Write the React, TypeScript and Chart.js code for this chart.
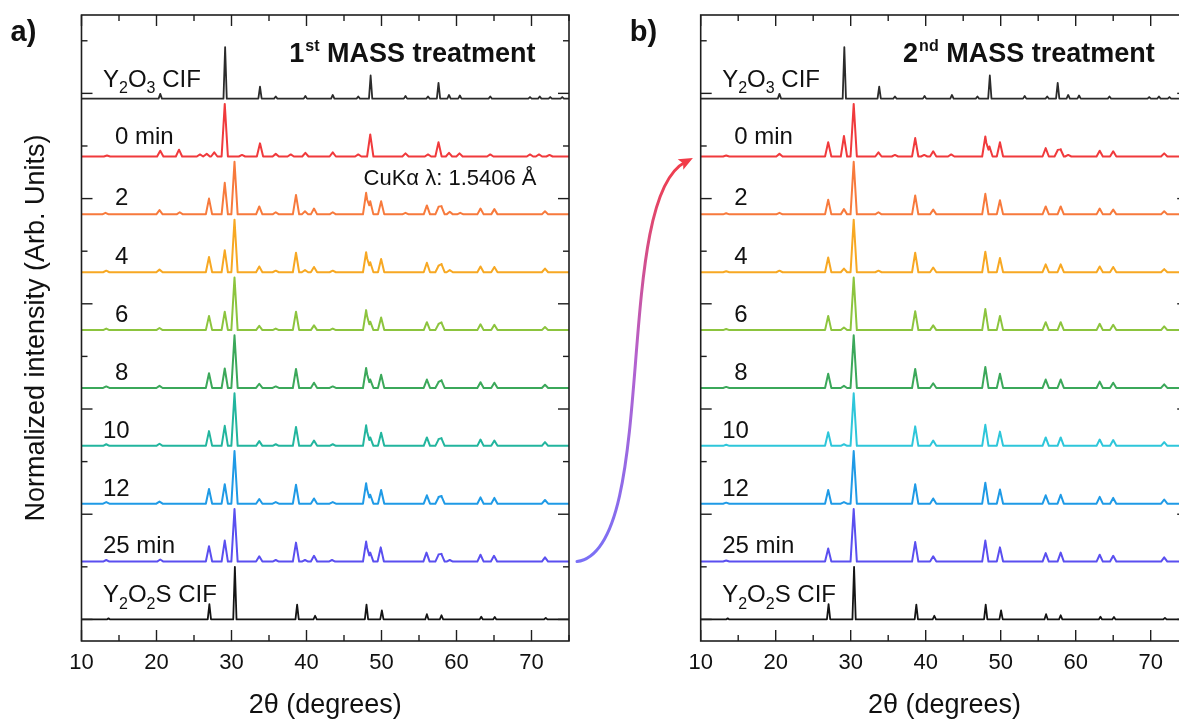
import React, { useEffect, useRef } from "react";
import { Chart, registerables } from "chart.js";

Chart.register(...registerables);

const FONT = "'Liberation Sans', Arial, Helvetica, sans-serif";

// ---------- axes ----------
const X_MIN = 10;
const X_MAX = 75;
const Y_MIN = -0.41;
const Y_MAX = 11.49;
const xMajorTicks = [10, 20, 30, 40, 50, 60, 70];
const xMinorTicks = [15, 25, 35, 45, 55, 65, 75];
const yMajorTicks = [0, 2, 4, 6, 8, 10];
const yMinorTicks = [1, 3, 5, 7, 9, 11];

// ---------- traces ----------
const traceLabels = ["Y_2O_3 CIF", "0 min", "2", "4", "6", "8", "10", "12", "25 min", "Y_2O_2S CIF"];
const traceOffsets = [9.9, 8.8, 7.7, 6.6, 5.5, 4.4, 3.3, 2.2, 1.1, 0];
const traceIsCif = [true, false, false, false, false, false, false, false, false, true];

const colorsA = ["#2b2b2b", "#f03a3c", "#f77a3c", "#f7a823", "#8cc43e", "#3ba85a", "#22b59e", "#1f9ae6", "#5a4ff0", "#141414"];
const colorsB = ["#2b2b2b", "#f03a3c", "#f77a3c", "#f7a823", "#8cc43e", "#3ba85a", "#2ec6da", "#1f9ae6", "#5a4ff0", "#141414"];

// peaks: [2theta, normalized height]
const y2o3CifPeaks = [[20.5, 0.09], [29.15, 0.98], [33.8, 0.23], [35.9, 0.04], [39.85, 0.05], [43.5, 0.07], [46.9, 0.04], [48.55, 0.44], [53.2, 0.05], [56.2, 0.04], [57.6, 0.3], [59.0, 0.07], [60.45, 0.06], [64.5, 0.04], [69.8, 0.03], [71.1, 0.04], [72.5, 0.03], [74.1, 0.03]];
const y2o2sCifPeaks = [[13.6, 0.02], [27.05, 0.29], [30.45, 1.0], [38.75, 0.28], [41.15, 0.07], [48.0, 0.28], [50.05, 0.17], [56.05, 0.1], [58.0, 0.08], [63.3, 0.05], [65.1, 0.045], [71.9, 0.03]];

const a0minPeaks = [[13.4, 0.02], [20.5, 0.11], [23.0, 0.13], [25.8, 0.04], [26.7, 0.05], [27.7, 0.08], [29.1, 1.0], [31.4, 0.03], [33.8, 0.25], [35.9, 0.05], [37.9, 0.04], [39.85, 0.07], [43.5, 0.08], [46.9, 0.04], [48.5, 0.42], [53.2, 0.06], [56.2, 0.04], [57.6, 0.27], [59.0, 0.07], [60.4, 0.06], [64.5, 0.04], [69.8, 0.04], [71.0, 0.04], [72.4, 0.03]];
const a2minPeaks = [[13.2, 0.03], [20.4, 0.08], [23.1, 0.04], [27.0, 0.3], [29.1, 0.6], [30.4, 1.0], [33.7, 0.15], [35.9, 0.04], [38.6, 0.37], [39.8, 0.06], [41.0, 0.11], [43.5, 0.04], [47.95, 0.41], [48.5, 0.25], [49.95, 0.25], [53.2, 0.03], [56.05, 0.17], [57.6, 0.14], [58.0, 0.15], [59.1, 0.05], [60.5, 0.03], [63.2, 0.11], [65.05, 0.1], [71.8, 0.06]];
const a4minPeaks = [[13.3, 0.03], [20.4, 0.05], [27.0, 0.29], [29.1, 0.42], [30.4, 1.0], [33.7, 0.11], [35.9, 0.03], [38.6, 0.37], [39.8, 0.04], [41.0, 0.1], [43.5, 0.03], [47.95, 0.38], [48.5, 0.19], [49.95, 0.25], [56.05, 0.18], [57.6, 0.12], [58.0, 0.15], [59.1, 0.04], [63.2, 0.11], [65.05, 0.1], [71.8, 0.07]];
const a6minPeaks = [[13.3, 0.03], [20.4, 0.04], [27.0, 0.27], [29.1, 0.35], [30.4, 1.0], [33.7, 0.08], [35.9, 0.03], [38.6, 0.35], [41.0, 0.09], [43.5, 0.03], [47.95, 0.38], [48.5, 0.16], [49.95, 0.24], [56.05, 0.15], [57.6, 0.11], [58.0, 0.14], [63.2, 0.11], [65.05, 0.1], [71.8, 0.06]];
const a8minPeaks = [[13.3, 0.03], [20.4, 0.04], [27.0, 0.28], [29.1, 0.37], [30.4, 1.0], [33.7, 0.08], [35.9, 0.03], [38.6, 0.36], [41.0, 0.1], [43.5, 0.03], [47.95, 0.38], [48.5, 0.16], [49.95, 0.25], [56.05, 0.16], [57.6, 0.11], [58.0, 0.14], [63.2, 0.11], [65.05, 0.1], [71.8, 0.06]];
const a10minPeaks = [[13.3, 0.03], [20.4, 0.04], [27.0, 0.28], [29.1, 0.38], [30.4, 1.0], [33.7, 0.09], [35.9, 0.03], [38.6, 0.36], [41.0, 0.1], [43.5, 0.03], [47.95, 0.39], [48.5, 0.16], [49.95, 0.25], [56.05, 0.16], [57.6, 0.12], [58.0, 0.14], [63.2, 0.12], [65.05, 0.1], [71.8, 0.07]];
const a12minPeaks = [[13.3, 0.03], [20.4, 0.04], [27.0, 0.28], [29.1, 0.37], [30.4, 1.0], [33.7, 0.09], [35.9, 0.03], [38.6, 0.36], [41.0, 0.1], [43.5, 0.03], [47.95, 0.39], [48.5, 0.17], [49.95, 0.26], [56.05, 0.16], [57.6, 0.12], [58.0, 0.14], [63.2, 0.12], [65.05, 0.11], [71.8, 0.07]];
const a25minPeaks = [[13.3, 0.03], [20.5, 0.04], [27.0, 0.29], [29.1, 0.4], [30.4, 1.0], [33.7, 0.1], [35.9, 0.03], [38.6, 0.36], [39.8, 0.03], [41.0, 0.11], [43.4, 0.03], [47.95, 0.38], [48.5, 0.17], [49.9, 0.27], [56.0, 0.17], [57.6, 0.13], [58.0, 0.14], [59.1, 0.03], [63.2, 0.13], [65.0, 0.11], [71.8, 0.08]];

const b0minPeaks = [[13.4, 0.02], [20.5, 0.05], [27.0, 0.27], [29.1, 0.39], [30.4, 1.0], [33.7, 0.08], [35.9, 0.03], [38.6, 0.35], [39.8, 0.03], [41.0, 0.1], [43.4, 0.04], [47.95, 0.38], [48.5, 0.19], [49.9, 0.27], [56.0, 0.16], [57.6, 0.12], [58.0, 0.13], [59.0, 0.03], [63.2, 0.11], [65.0, 0.1], [71.8, 0.06]];
const b2minPeaks = [[13.4, 0.02], [20.5, 0.03], [27.0, 0.28], [29.1, 0.1], [30.4, 1.0], [33.7, 0.04], [38.6, 0.36], [41.0, 0.09], [47.95, 0.39], [49.9, 0.27], [56.0, 0.15], [58.0, 0.15], [63.2, 0.11], [65.0, 0.09], [71.8, 0.06]];
const b4minPeaks = [[13.4, 0.02], [20.5, 0.03], [27.0, 0.28], [29.1, 0.07], [30.4, 1.0], [33.7, 0.03], [38.6, 0.37], [41.0, 0.09], [47.95, 0.39], [49.9, 0.27], [56.0, 0.15], [58.0, 0.15], [63.2, 0.11], [65.0, 0.1], [71.8, 0.06]];
const b6minPeaks = [[13.4, 0.02], [27.0, 0.27], [29.1, 0.05], [30.4, 1.0], [38.6, 0.36], [41.0, 0.09], [47.95, 0.4], [49.9, 0.27], [56.0, 0.15], [58.0, 0.15], [63.2, 0.12], [65.0, 0.1], [71.8, 0.07]];
const b8minPeaks = [[13.4, 0.02], [27.0, 0.27], [29.1, 0.04], [30.4, 1.0], [38.6, 0.36], [41.0, 0.09], [47.95, 0.4], [49.9, 0.27], [56.0, 0.16], [58.0, 0.16], [63.2, 0.12], [65.0, 0.1], [71.8, 0.07]];
const b10minPeaks = [[13.4, 0.02], [27.0, 0.26], [29.1, 0.03], [30.4, 1.0], [38.6, 0.37], [41.0, 0.1], [47.95, 0.4], [49.9, 0.27], [56.0, 0.16], [58.0, 0.16], [63.2, 0.12], [65.0, 0.11], [71.8, 0.07]];
const b12minPeaks = [[13.4, 0.02], [27.0, 0.26], [29.1, 0.03], [30.4, 1.0], [38.6, 0.37], [41.0, 0.1], [47.95, 0.4], [49.9, 0.27], [56.0, 0.16], [58.0, 0.17], [63.2, 0.13], [65.0, 0.11], [71.8, 0.08]];
const b25minPeaks = [[13.4, 0.02], [27.0, 0.25], [30.4, 1.0], [38.6, 0.37], [41.0, 0.1], [47.95, 0.4], [49.9, 0.27], [56.0, 0.16], [58.0, 0.17], [63.2, 0.13], [65.0, 0.11], [71.8, 0.08]];

const panelAPeaks = [y2o3CifPeaks, a0minPeaks, a2minPeaks, a4minPeaks, a6minPeaks, a8minPeaks, a10minPeaks, a12minPeaks, a25minPeaks, y2o2sCifPeaks];
const panelBPeaks = [y2o3CifPeaks, b0minPeaks, b2minPeaks, b4minPeaks, b6minPeaks, b8minPeaks, b10minPeaks, b12minPeaks, b25minPeaks, y2o2sCifPeaks];

// ---------- layout (pixels) ----------
const labelIndent = [21.5, 33.5, 33.5, 33.5, 33.5, 33.5, 21.5, 21.5, 21.5, 21.5];
const labelLift = [12, 13, 9, 8, 8, 8, 8, 8, 9, 17];
const SAMPLE_HALF_WIDTH = 0.42;
const CIF_HALF_WIDTH = 0.22;

function buildTrace(peaks: number[][], offset: number, hw: number) {
  const xs = new Set<number>([X_MIN, X_MAX]);
  peaks.forEach(([p]) => {
    xs.add(p - hw);
    xs.add(p);
    xs.add(p + hw);
  });
  const sorted = Array.from(xs).sort((a, b) => a - b);
  return sorted.map((x) => {
    let y = 0;
    peaks.forEach(([p, h]) => {
      const d = Math.abs(x - p);
      if (d < hw) y += h * (1 - d / hw);
    });
    return { x, y: offset + y };
  });
}

function drawRich(ctx: CanvasRenderingContext2D, text: string, x: number, y: number, size: number) {
  let cx = x;
  for (let i = 0; i < text.length; i++) {
    const ch = text[i];
    if (ch === "_" && i + 1 < text.length) {
      const sub = text[i + 1];
      ctx.font = `${Math.round(size * 0.68)}px ${FONT}`;
      ctx.fillText(sub, cx, y + size * 0.27);
      cx += ctx.measureText(sub).width;
      i++;
    } else {
      ctx.font = `${size}px ${FONT}`;
      ctx.fillText(ch, cx, y);
      cx += ctx.measureText(ch).width;
    }
  }
}

function drawTitle(ctx: CanvasRenderingContext2D, xRight: number, yBase: number, num: string, sup: string, rest: string) {
  const big = `bold 27px ${FONT}`;
  const small = `bold 16px ${FONT}`;
  ctx.font = big;
  const w1 = ctx.measureText(num).width;
  const w3 = ctx.measureText(rest).width;
  ctx.font = small;
  const w2 = ctx.measureText(sup).width + 1;
  let x = xRight - (w1 + w2 + w3);
  ctx.textAlign = "left";
  ctx.font = big;
  ctx.fillText(num, x, yBase);
  x += w1;
  ctx.font = small;
  ctx.fillText(sup, x + 1, yBase - 11);
  x += w2;
  ctx.font = big;
  ctx.fillText(rest, x, yBase);
}

type PanelSpec = {
  left: number;
  width: number;
  yAxisWidth: number;
  plotWidth: number;
  peaks: number[][][];
  colors: string[];
  letter: string;
  titleNum: string;
  titleSup: string;
  showYTitle: boolean;
  showWavelength: boolean;
  showArrow: boolean;
};

function makeDecor(spec: PanelSpec) {
  return {
    id: "xrdDecor",
    afterDatasetsDraw(chart: any) {
      const ctx: CanvasRenderingContext2D = chart.ctx;
      const { left, right, top, bottom } = chart.chartArea;
      const xs = chart.scales.x;
      const ys = chart.scales.y;
      ctx.save();
      ctx.strokeStyle = "#1e1e1e";
      ctx.lineWidth = 1.6;
      ctx.strokeRect(left, top, right - left, bottom - top);
      ctx.lineWidth = 1.4;
      const line = (x1: number, y1: number, x2: number, y2: number) => {
        ctx.beginPath();
        ctx.moveTo(x1, y1);
        ctx.lineTo(x2, y2);
        ctx.stroke();
      };
      xMajorTicks.forEach((v) => {
        const px = xs.getPixelForValue(v);
        line(px, bottom, px, bottom - 11);
        line(px, top, px, top + 11);
      });
      xMinorTicks.forEach((v) => {
        const px = xs.getPixelForValue(v);
        line(px, bottom, px, bottom - 6);
        line(px, top, px, top + 6);
      });
      yMajorTicks.forEach((v) => {
        const py = ys.getPixelForValue(v);
        line(left, py, left + 11, py);
        line(right, py, right - 11, py);
      });
      yMinorTicks.forEach((v) => {
        const py = ys.getPixelForValue(v);
        line(left, py, left + 6, py);
        line(right, py, right - 6, py);
      });

      // trace labels
      ctx.fillStyle = "#111";
      ctx.textAlign = "left";
      ctx.textBaseline = "alphabetic";
      traceLabels.forEach((lab, i) => {
        const py = ys.getPixelForValue(traceOffsets[i]) - labelLift[i];
        drawRich(ctx, lab, left + labelIndent[i], py, 24);
      });

      // title
      drawTitle(ctx, left + 454, top + 47, spec.titleNum, spec.titleSup, " MASS treatment");

      if (spec.showWavelength) {
        ctx.font = `22px ${FONT}`;
        ctx.textAlign = "right";
        ctx.fillText("CuK\u03b1 \u03bb: 1.5406 \u00c5", left + 455, ys.getPixelForValue(traceOffsets[2]) - 29);
      }

      // panel letter
      ctx.font = `bold 29px ${FONT}`;
      ctx.textAlign = "left";
      ctx.fillText(spec.letter, left - 71, top + 26);

      if (spec.showArrow) {
        const y0 = ys.getPixelForValue(traceOffsets[8]);
        const y3 = ys.getPixelForValue(traceOffsets[1]) + 2;
        const p0 = { x: right + 8, y: y0 };
        const p1 = { x: right + 91, y: y0 - 11 };
        const p2 = { x: right + 43, y: y3 + 42 };
        const p3 = { x: right + 123, y: y3 };
        const grad = ctx.createLinearGradient(0, y0, 0, y3);
        grad.addColorStop(0, "#7a70f6");
        grad.addColorStop(0.5, "#b462cf");
        grad.addColorStop(1, "#f23c48");
        const dx = p3.x - p2.x;
        const dy = p3.y - p2.y;
        const len = Math.hypot(dx, dy);
        const ux = dx / len;
        const uy = dy / len;
        ctx.strokeStyle = grad;
        ctx.lineWidth = 3;
        ctx.lineCap = "round";
        ctx.beginPath();
        ctx.moveTo(p0.x, p0.y);
        ctx.bezierCurveTo(p1.x, p1.y, p2.x, p2.y, p3.x - ux * 8, p3.y - uy * 8);
        ctx.stroke();
        const bx = p3.x - ux * 13;
        const by = p3.y - uy * 13;
        ctx.fillStyle = "#f23c48";
        ctx.beginPath();
        ctx.moveTo(p3.x + ux * 1, p3.y + uy * 1);
        ctx.lineTo(bx - uy * 6, by + ux * 6);
        ctx.lineTo(bx + ux * 3, by + uy * 3);
        ctx.lineTo(bx + uy * 6, by - ux * 6);
        ctx.closePath();
        ctx.fill();
      }
      ctx.restore();
    },
  };
}

function buildConfig(spec: PanelSpec): any {
  const datasets = spec.peaks.map((pk, i) => ({
    label: traceLabels[i],
    data: buildTrace(pk, traceOffsets[i], traceIsCif[i] ? CIF_HALF_WIDTH : SAMPLE_HALF_WIDTH),
    borderColor: spec.colors[i],
    backgroundColor: spec.colors[i],
    borderWidth: traceIsCif[i] ? 1.8 : 2,
    borderJoinStyle: "round",
    pointRadius: 0,
    tension: 0,
    fill: false,
  }));
  const padRight = spec.width - spec.yAxisWidth - spec.plotWidth;
  return {
    type: "line",
    data: { datasets },
    options: {
      animation: false,
      responsive: false,
      maintainAspectRatio: false,
      events: [],
      layout: { padding: { top: 15, right: padRight, bottom: 0, left: 0 } },
      plugins: { legend: { display: false }, tooltip: { enabled: false }, title: { display: false } },
      scales: {
        x: {
          type: "linear",
          min: X_MIN,
          max: X_MAX,
          position: "bottom",
          afterBuildTicks: (s: any) => {
            s.ticks = xMajorTicks.map((v) => ({ value: v }));
          },
          afterFit: (s: any) => {
            s.height = 81;
          },
          grid: { display: false, drawTicks: false },
          border: { display: false },
          ticks: { padding: 9, font: { size: 22, family: FONT }, color: "#111", maxRotation: 0, autoSkip: false },
          title: {
            display: true,
            text: "2\u03b8 (degrees)",
            font: { size: 27, family: FONT },
            color: "#111",
            padding: { top: 0, bottom: 0 },
          },
        },
        y: {
          type: "linear",
          min: Y_MIN,
          max: Y_MAX,
          afterFit: (s: any) => {
            s.width = spec.yAxisWidth;
          },
          grid: { display: false, drawTicks: false },
          border: { display: false },
          ticks: { display: false },
          title: {
            display: spec.showYTitle,
            text: "Normalized intensity (Arb. Units)",
            font: { size: 27, family: FONT },
            color: "#111",
            padding: { top: 20, bottom: 0 },
          },
        },
      },
    },
    plugins: [makeDecor(spec)],
  };
}

const panelA: PanelSpec = {
  left: 0,
  width: 710,
  yAxisWidth: 81.5,
  plotWidth: 487.5,
  peaks: panelAPeaks,
  colors: colorsA,
  letter: "a)",
  titleNum: "1",
  titleSup: "st",
  showYTitle: true,
  showWavelength: true,
  showArrow: true,
};

const panelB: PanelSpec = {
  left: 620,
  width: 600,
  yAxisWidth: 80.7,
  plotWidth: 487.5,
  peaks: panelBPeaks,
  colors: colorsB,
  letter: "b)",
  titleNum: "2",
  titleSup: "nd",
  showYTitle: false,
  showWavelength: false,
  showArrow: false,
};

function XrdPanel({ spec }: { spec: PanelSpec }) {
  const ref = useRef<HTMLCanvasElement | null>(null);
  useEffect(() => {
    if (!ref.current) return;
    const chart = new Chart(ref.current, buildConfig(spec));
    return () => chart.destroy();
  }, [spec]);
  return (
    <canvas
      ref={ref}
      width={spec.width}
      height={722}
      style={{ position: "absolute", left: spec.left, top: 0, width: spec.width, height: 722 }}
    />
  );
}

export default function App() {
  return (
    <div
      style={{
        position: "fixed",
        left: 0,
        top: 0,
        width: 1179,
        height: 722,
        overflow: "hidden",
        background: "#ffffff",
      }}
    >
      <XrdPanel spec={panelB} />
      <XrdPanel spec={panelA} />
    </div>
  );
}
